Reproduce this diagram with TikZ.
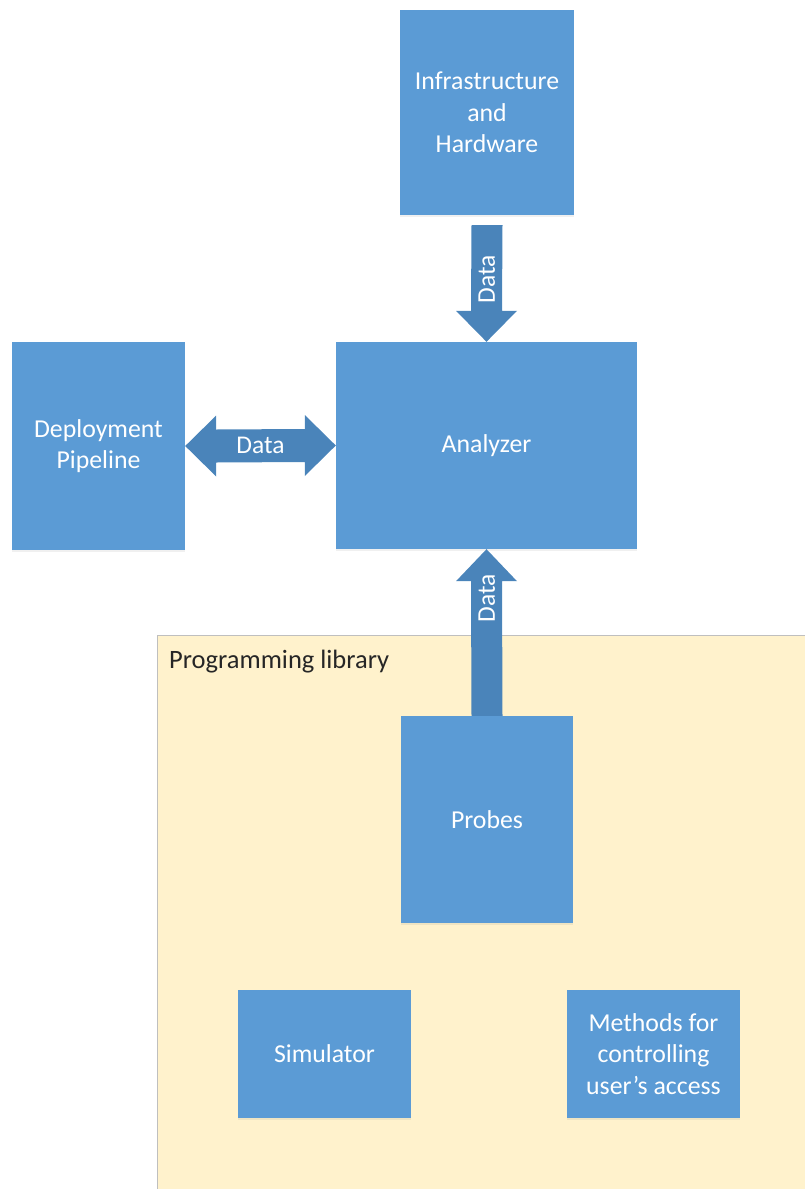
\documentclass[tikz,border=0pt]{standalone}
\usepackage{fontspec}
\setmainfont{Carlito}
\usetikzlibrary{calc,shadows}
\definecolor{boxblue}{HTML}{5B9BD5}
\definecolor{arrowblue}{HTML}{4A84BA}
\definecolor{libfill}{HTML}{FFF2CC}
\definecolor{libline}{HTML}{BFBFBF}
\begin{document}
\begin{tikzpicture}[x=1pt,y=-1pt,
  block/.style={fill=boxblue, text=white, align=center,
    font=\fontsize{25.8}{31.5}\selectfont, inner sep=0pt,
    drop shadow={opacity=0.12,shadow xshift=0pt,shadow yshift=-2pt}},
  flow/.style={fill=arrowblue},
  flowlabel/.style={text=white, font=\fontsize{25.5}{30}\selectfont, inner sep=0pt},
  grouplabel/.style={text=black!85, font=\fontsize{26.5}{30}\selectfont, inner sep=0pt, anchor=west}]
  \useasboundingbox (0,0) rectangle (805,1189);

  % library container (runs off the right and bottom edges)
  \begin{scope}
    \clip (0,0) rectangle (805,1189);
    \draw[libline, fill=libfill, line width=1pt] (157,635) rectangle (808,1192);
  \end{scope}
  \node[grouplabel] (liblabel) at (169,662) {Programming library};

  % blocks
  \node[block, minimum width=174pt, minimum height=205pt] (infra) at (487,112.5) {Infrastructure\\and\\Hardware};
  \node[block, minimum width=301pt, minimum height=207pt] (analyzer) at (486.5,445.5) {Analyzer};
  \node[block, minimum width=173pt, minimum height=208pt] (deploy) at (98.5,446) {Deployment\\Pipeline};
  \node[block, minimum width=172pt, minimum height=207pt] (probes) at (487,819.5) {Probes};
  \node[block, minimum width=173pt, minimum height=128pt] (sim) at (324.5,1054) {Simulator};
  \node[block, minimum width=173pt, minimum height=128pt] (methods) at (653.5,1054) {Methods for\\controlling\\user’s access};

  % infrastructure -> analyzer
  \coordinate (dtop) at ($(infra.south)+(0,10)$);
  \fill[flow] ($(dtop)+(-15.5,0)$) -- ($(dtop)+(15.5,0)$)
    -- ($(analyzer.north)+(15.5,-31)$) -- ($(analyzer.north)+(30.5,-31)$)
    -- (analyzer.north)
    -- ($(analyzer.north)+(-30.5,-31)$) -- ($(analyzer.north)+(-15.5,-31)$) -- cycle;
  \node[flowlabel, rotate=90] (dlabel) at ($(dtop)!0.5!(analyzer.north)+(0,-4)$) {Data};

  % probes -> analyzer
  \fill[flow] (probes.north) ++(-15.5,0) -- ++(31,0)
    -- ($(analyzer.south)+(15.5,32)$) -- ($(analyzer.south)+(30.5,32)$)
    -- (analyzer.south)
    -- ($(analyzer.south)+(-30.5,32)$) -- ($(analyzer.south)+(-15.5,32)$) -- cycle;
  \node[flowlabel, rotate=90] (ulabel) at ($(analyzer.south)!0.5!(probes.north)+(0,-34)$) {Data};

  % deployment pipeline <-> analyzer
  \fill[flow] (deploy.east)
    -- ($(deploy.east)+(31,-30.5)$) -- ($(deploy.east)+(31,-16.5)$)
    -- ($(analyzer.west)+(-31,-16.5)$) -- ($(analyzer.west)+(-31,-30.5)$)
    -- (analyzer.west)
    -- ($(analyzer.west)+(-31,30.5)$) -- ($(analyzer.west)+(-31,16.5)$)
    -- ($(deploy.east)+(31,16.5)$) -- ($(deploy.east)+(31,30.5)$) -- cycle;
  \node[flowlabel] (hlabel) at ($(deploy.east)!0.5!(analyzer.west)$) {Data};
\end{tikzpicture}
\end{document}
